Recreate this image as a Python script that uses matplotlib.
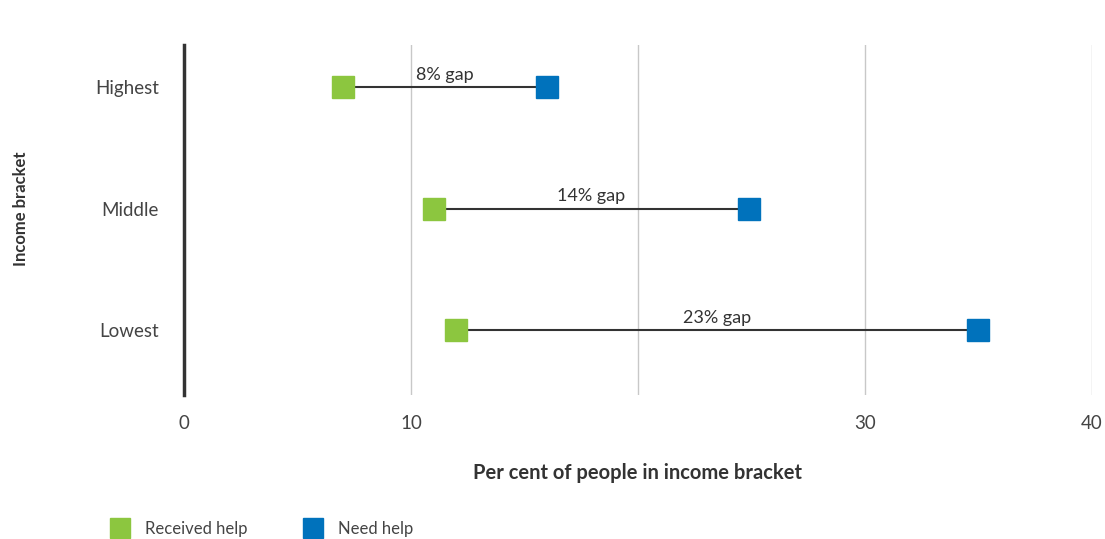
import matplotlib

matplotlib.use("Agg")
import matplotlib.pyplot as plt  # noqa: E402
from matplotlib.lines import Line2D  # noqa: E402

brackets = ["Highest", "Middle", "Lowest"]
received_help = [7.0, 11.0, 12.0]
need_help = [16.0, 24.9, 35.0]
gap_labels = ["8% gap", "14% gap", "23% gap"]
x_ticks = [0, 10, 20, 30, 40]
x_tick_labels = ["0", "10", "", "30", "40"]

GREEN = "#8cc63f"
BLUE = "#0072bc"
DARK = "#333333"

plt.rcParams["font.family"] = ["Lato", "DejaVu Sans"]

fig = plt.figure(figsize=(11.05, 5.39), dpi=100)
ax = fig.add_axes([0.1665, 0.267, 0.8215, 0.6495])

y = list(range(len(brackets)))
for yi, lo, hi, lab in zip(y, received_help, need_help, gap_labels):
    ax.plot([lo, hi], [yi, yi], color=DARK, lw=1.5, zorder=2)
    ax.text((lo + hi) / 2, yi - 0.035, lab, ha="center", va="bottom",
            fontsize=13, color=DARK)
ax.plot(received_help, y, "s", color=GREEN, ms=16, zorder=3, ls="none")
ax.plot(need_help, y, "s", color=BLUE, ms=16, zorder=3, ls="none")

ax.set_xlim(0, 40)
ax.set_ylim(2.535, -0.346)
ax.set_xticks(x_ticks)
ax.set_xticklabels(x_tick_labels)
ax.set_yticks(y)
ax.set_yticklabels(brackets)
ax.tick_params(axis="both", length=0, labelsize=13.5, colors="#444444")
ax.tick_params(axis="x", pad=14)
ax.tick_params(axis="y", pad=18)
ax.grid(axis="x", color="#c8c8c8", lw=1)
ax.set_axisbelow(True)
for side in ["top", "right", "bottom"]:
    ax.spines[side].set_visible(False)
ax.spines["left"].set_color(DARK)
ax.spines["left"].set_linewidth(2.5)

ax.set_xlabel("Per cent of people in income bracket", fontsize=14.5,
              fontweight="bold", color=DARK, labelpad=23)
fig.text(0.019, 0.612, "Income bracket", rotation=90, ha="center",
         va="center", fontsize=12, fontweight="bold", color=DARK)

handles = [
    Line2D([], [], marker="s", color=GREEN, ls="none", ms=15),
    Line2D([], [], marker="s", color=BLUE, ls="none", ms=15),
]
fig.legend(handles, ["Received help", "Need help"], loc="lower left",
           bbox_to_anchor=(0.080, -0.024), ncol=2, frameon=False,
           fontsize=12, handletextpad=0.5, columnspacing=2.9,
           labelcolor="#444444")

fig.savefig("out.png", dpi=100)
